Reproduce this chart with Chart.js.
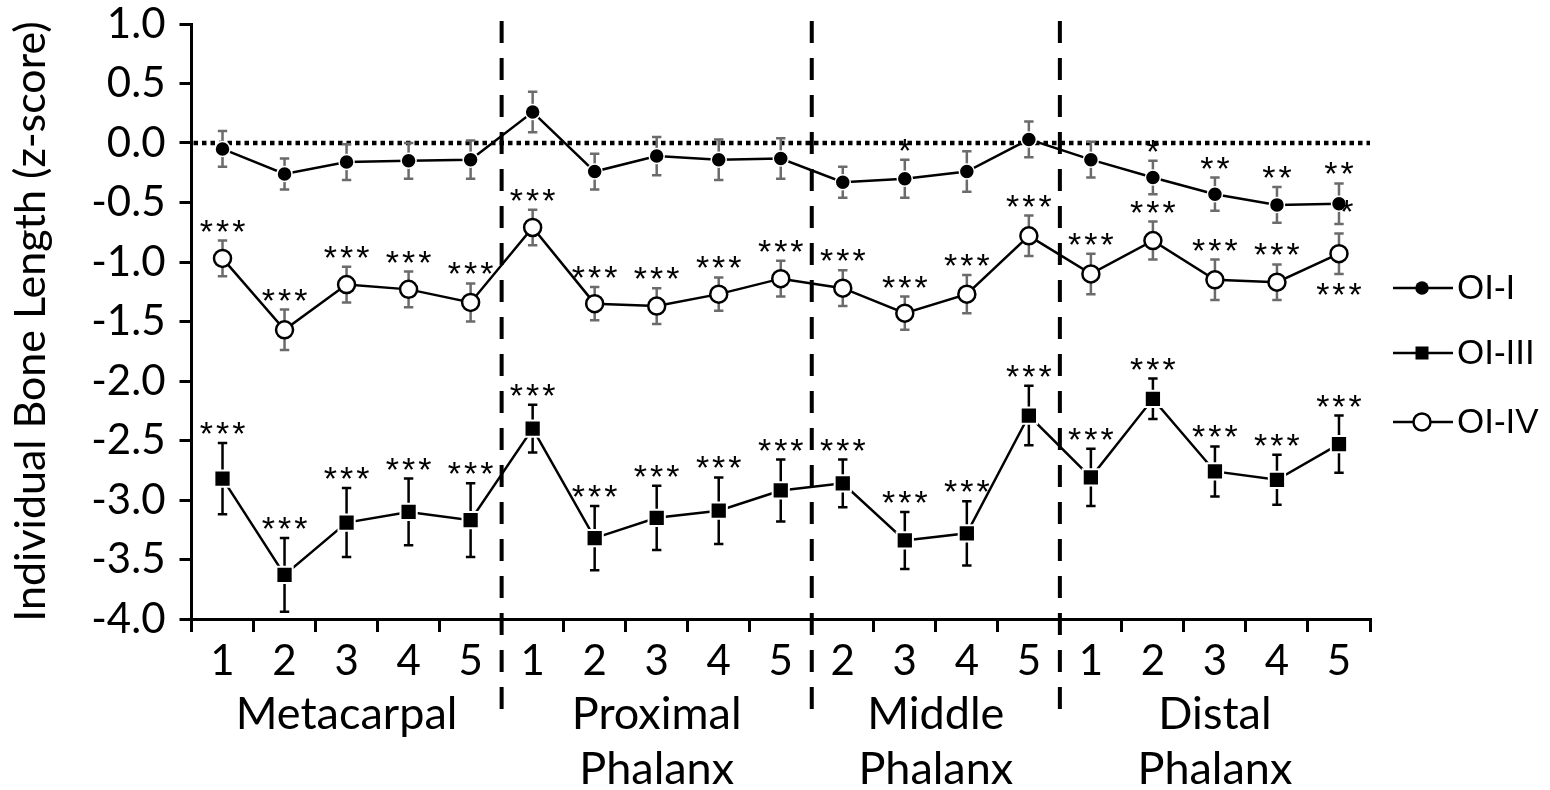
<!DOCTYPE html>
<html>
<head>
<meta charset="utf-8">
<script src="https://cdn.jsdelivr.net/npm/chart.js@4.4.1/dist/chart.umd.min.js"></script>
<style>
  html, body { margin: 0; padding: 0; background: #fff; }
  #wrap { width: 1550px; height: 790px; }
</style>
</head>
<body>
<div id="wrap"><canvas id="boneChart"></canvas></div>
<script>
// categories
var boneLabels = ['1', '2', '3', '4', '5', '1', '2', '3', '4', '5', '2', '3', '4', '5', '1', '2', '3', '4', '5'];
var groupNames = [['Metacarpal'], ['Proximal', 'Phalanx'], ['Middle', 'Phalanx'], ['Distal', 'Phalanx']];
var groupSizes = [5, 5, 4, 5];

// series (mean z-score and error)
var oi1Mean = [-0.05, -0.26, -0.16, -0.15, -0.14, 0.26, -0.24, -0.11, -0.14, -0.13, -0.33, -0.30, -0.24, 0.03, -0.14, -0.29, -0.43, -0.52, -0.51];
var oi1Err = [0.15, 0.13, 0.15, 0.15, 0.16, 0.17, 0.15, 0.16, 0.17, 0.17, 0.13, 0.16, 0.17, 0.15, 0.15, 0.14, 0.14, 0.15, 0.17];
var oi3Mean = [-2.82, -3.63, -3.19, -3.10, -3.17, -2.40, -3.32, -3.15, -3.09, -2.92, -2.86, -3.34, -3.28, -2.29, -2.81, -2.15, -2.76, -2.83, -2.53];
var oi3Err = [0.30, 0.31, 0.29, 0.28, 0.31, 0.20, 0.27, 0.27, 0.28, 0.26, 0.20, 0.24, 0.27, 0.25, 0.24, 0.17, 0.21, 0.21, 0.24];
var oi4Mean = [-0.97, -1.57, -1.19, -1.23, -1.34, -0.71, -1.35, -1.37, -1.27, -1.14, -1.22, -1.43, -1.27, -0.78, -1.10, -0.82, -1.15, -1.17, -0.93];
var oi4Err = [0.15, 0.17, 0.15, 0.15, 0.16, 0.15, 0.14, 0.15, 0.14, 0.15, 0.15, 0.14, 0.16, 0.17, 0.17, 0.16, 0.17, 0.15, 0.17];

// significance marks
var oi1Sig = ['', '', '', '', '', '', '', '', '', '', '', '*', '', '', '', '*', '**', '**', '**'];
var oi3Sig = ['***', '***', '***', '***', '***', '***', '***', '***', '***', '***', '***', '***', '***', '***', '***', '***', '***', '***', '***'];
var oi4Sig = ['***', '***', '***', '***', '***', '***', '***', '***', '***', '***', '***', '***', '***', '***', '***', '***', '***', '***', '***'];
var oi4SigBelow = [18];
var oi1SigSide = [18];

var GRAY = '#6b6b6b';
var FONT = 'Lato';

var extras = {
    id: 'extras',
    beforeDatasetsDraw: function (chart) {
        var ctx = chart.ctx, a = chart.chartArea;
        var xs = chart.scales.x, ys = chart.scales.y;
        ctx.save();
        // zero line
        ctx.strokeStyle = '#000';
        ctx.lineWidth = 4.5;
        ctx.setLineDash([4.5, 4]);
        var y0 = ys.getPixelForValue(0);
        ctx.beginPath();
        ctx.moveTo(a.left + 2, y0);
        ctx.lineTo(a.right, y0);
        ctx.stroke();
        // group separators
        ctx.lineWidth = 4;
        ctx.setLineDash([22, 15]);
        var idx = 0;
        for (var g = 0; g < groupSizes.length - 1; g++) {
            idx += groupSizes[g];
            var x = (xs.getPixelForValue(idx - 1) + xs.getPixelForValue(idx)) / 2;
            ctx.beginPath();
            ctx.moveTo(x, a.top - 3);
            ctx.lineTo(x, 720);
            ctx.stroke();
        }
        ctx.setLineDash([]);
        // error bars
        chart.data.datasets.forEach(function (ds, i) {
            var meta = chart.getDatasetMeta(i);
            ctx.strokeStyle = ds.errColor;
            ctx.lineWidth = 2.5;
            meta.data.forEach(function (pt, j) {
                var yt = ys.getPixelForValue(ds.data[j] + ds.errors[j]);
                var yb = ys.getPixelForValue(ds.data[j] - ds.errors[j]);
                ctx.beginPath();
                ctx.moveTo(pt.x, yt);
                ctx.lineTo(pt.x, yb);
                ctx.moveTo(pt.x - 4.7, yt);
                ctx.lineTo(pt.x + 4.7, yt);
                ctx.moveTo(pt.x - 4.7, yb);
                ctx.lineTo(pt.x + 4.7, yb);
                ctx.stroke();
            });
        });
        ctx.restore();
    },
    afterDraw: function (chart) {
        var ctx = chart.ctx;
        var xs = chart.scales.x, ys = chart.scales.y;
        ctx.save();
        ctx.fillStyle = '#000';
        ctx.textAlign = 'center';

        // asterisks
        ctx.font = '34px "Liberation Sans"';
        ctx.letterSpacing = '3px';
        function star(text, x, cy) {
            var m = ctx.measureText(text);
            var base = cy + (m.actualBoundingBoxAscent - m.actualBoundingBoxDescent) / 2;
            ctx.fillText(text, x + 1.5, base);
        }
        chart.data.datasets.forEach(function (ds, i) {
            var meta = chart.getDatasetMeta(i);
            meta.data.forEach(function (pt, j) {
                var s = ds.sig[j];
                if (!s) return;
                if (ds.sigBelow.indexOf(j) >= 0) {
                    star(s, pt.x, ys.getPixelForValue(ds.data[j] - ds.errors[j]) + 15);
                } else {
                    star(s, pt.x, ys.getPixelForValue(ds.data[j] + ds.errors[j]) - 15);
                }
                if (ds.sigSide.indexOf(j) >= 0) {
                    star('*', pt.x + 8, pt.y + 2);
                }
            });
        });
        ctx.letterSpacing = '0px';

        // group labels
        ctx.font = '45px ' + FONT;
        ctx.textBaseline = 'middle';
        var start = 0;
        groupNames.forEach(function (lines, g) {
            var end = start + groupSizes[g] - 1;
            var cx = (xs.getPixelForValue(start) + xs.getPixelForValue(end)) / 2;
            lines.forEach(function (t, k) {
                ctx.fillText(t, cx, 714 + k * 55);
            });
            start = end + 1;
        });

        // legend
        ctx.textAlign = 'left';
        ctx.font = '35px "Liberation Sans"';
        var rows = [288, 353, 422];
        chart.data.datasets.forEach(function (ds, i) {
            var y = rows[i];
            ctx.strokeStyle = '#000';
            ctx.lineWidth = 2.5;
            ctx.beginPath();
            ctx.moveTo(1393, y);
            ctx.lineTo(1453, y);
            ctx.stroke();
            if (ds.pointStyle === 'rect') {
                ctx.fillStyle = '#000';
                ctx.fillRect(1422 - 6.5, y - 6.5, 13, 13);
            } else {
                ctx.beginPath();
                ctx.arc(1422, y, ds.label === 'OI-IV' ? 8.5 : 6.75, 0, Math.PI * 2);
                ctx.fillStyle = ds.pointBackgroundColor;
                ctx.fill();
                if (ds.label === 'OI-IV') ctx.stroke();
            }
            ctx.fillStyle = '#000';
            ctx.fillText(ds.label, 1457, y + 1);
        });
        ctx.restore();
    }
};

var ctx = document.getElementById('boneChart');
var boneChart = new Chart(ctx, {
    type: 'line',
    data: {
        labels: boneLabels,
        datasets: [
            {
                label: 'OI-I',
                data: oi1Mean,
                errors: oi1Err,
                sig: oi1Sig,
                sigBelow: [],
                sigSide: oi1SigSide,
                errColor: GRAY,
                borderColor: '#000',
                borderWidth: 2.5,
                pointStyle: 'circle',
                pointRadius: 7.5,
                pointBackgroundColor: '#000',
                pointBorderColor: '#fff',
                pointBorderWidth: 1.5,
                tension: 0
            },
            {
                label: 'OI-III',
                data: oi3Mean,
                errors: oi3Err,
                sig: oi3Sig,
                sigBelow: [],
                sigSide: [],
                errColor: '#000',
                borderColor: '#000',
                borderWidth: 2.5,
                pointStyle: 'rect',
                pointRadius: 11.5,
                pointBackgroundColor: '#000',
                pointBorderColor: '#fff',
                pointBorderWidth: 2,
                tension: 0
            },
            {
                label: 'OI-IV',
                data: oi4Mean,
                errors: oi4Err,
                sig: oi4Sig,
                sigBelow: oi4SigBelow,
                sigSide: [],
                errColor: GRAY,
                borderColor: '#000',
                borderWidth: 2.5,
                pointStyle: 'circle',
                pointRadius: 8.5,
                pointBackgroundColor: '#fff',
                pointBorderColor: '#000',
                pointBorderWidth: 2.5,
                tension: 0
            }
        ]
    },
    options: {
        responsive: true,
        maintainAspectRatio: false,
        animation: false,
        layout: { padding: { left: 0, right: 180, top: 24, bottom: 0 } },
        plugins: { legend: { display: false }, tooltip: { enabled: false } },
        scales: {
            x: {
                type: 'category',
                offset: true,
                grid: { display: true, drawOnChartArea: false, drawTicks: true, tickLength: 13, lineWidth: 3, color: '#000', offset: true },
                border: { display: true, color: '#000', width: 3 },
                ticks: { color: '#000', font: { family: FONT, size: 42 }, padding: 4, maxRotation: 0, autoSkip: false },
                afterFit: function (scale) { scale.height = 171; }
            },
            y: {
                min: -4,
                max: 1,
                grid: { drawOnChartArea: false, drawTicks: true, tickLength: 12, lineWidth: 3, color: '#000' },
                border: { display: true, color: '#000', width: 3 },
                ticks: {
                    stepSize: 0.5,
                    color: '#000',
                    font: { family: FONT, size: 42, lineHeight: 0.45 },
                    padding: 14,
                    callback: function (v) { return v.toFixed(1); }
                },
                title: {
                    display: true,
                    text: 'Individual Bone Length (z-score)',
                    color: '#000',
                    font: { family: FONT, size: 43 },
                    padding: { top: 5, bottom: 0 }
                },
                afterFit: function (scale) { scale.width = 191.5; }
            }
        }
    },
    plugins: [extras]
});
</script>
</body>
</html>
